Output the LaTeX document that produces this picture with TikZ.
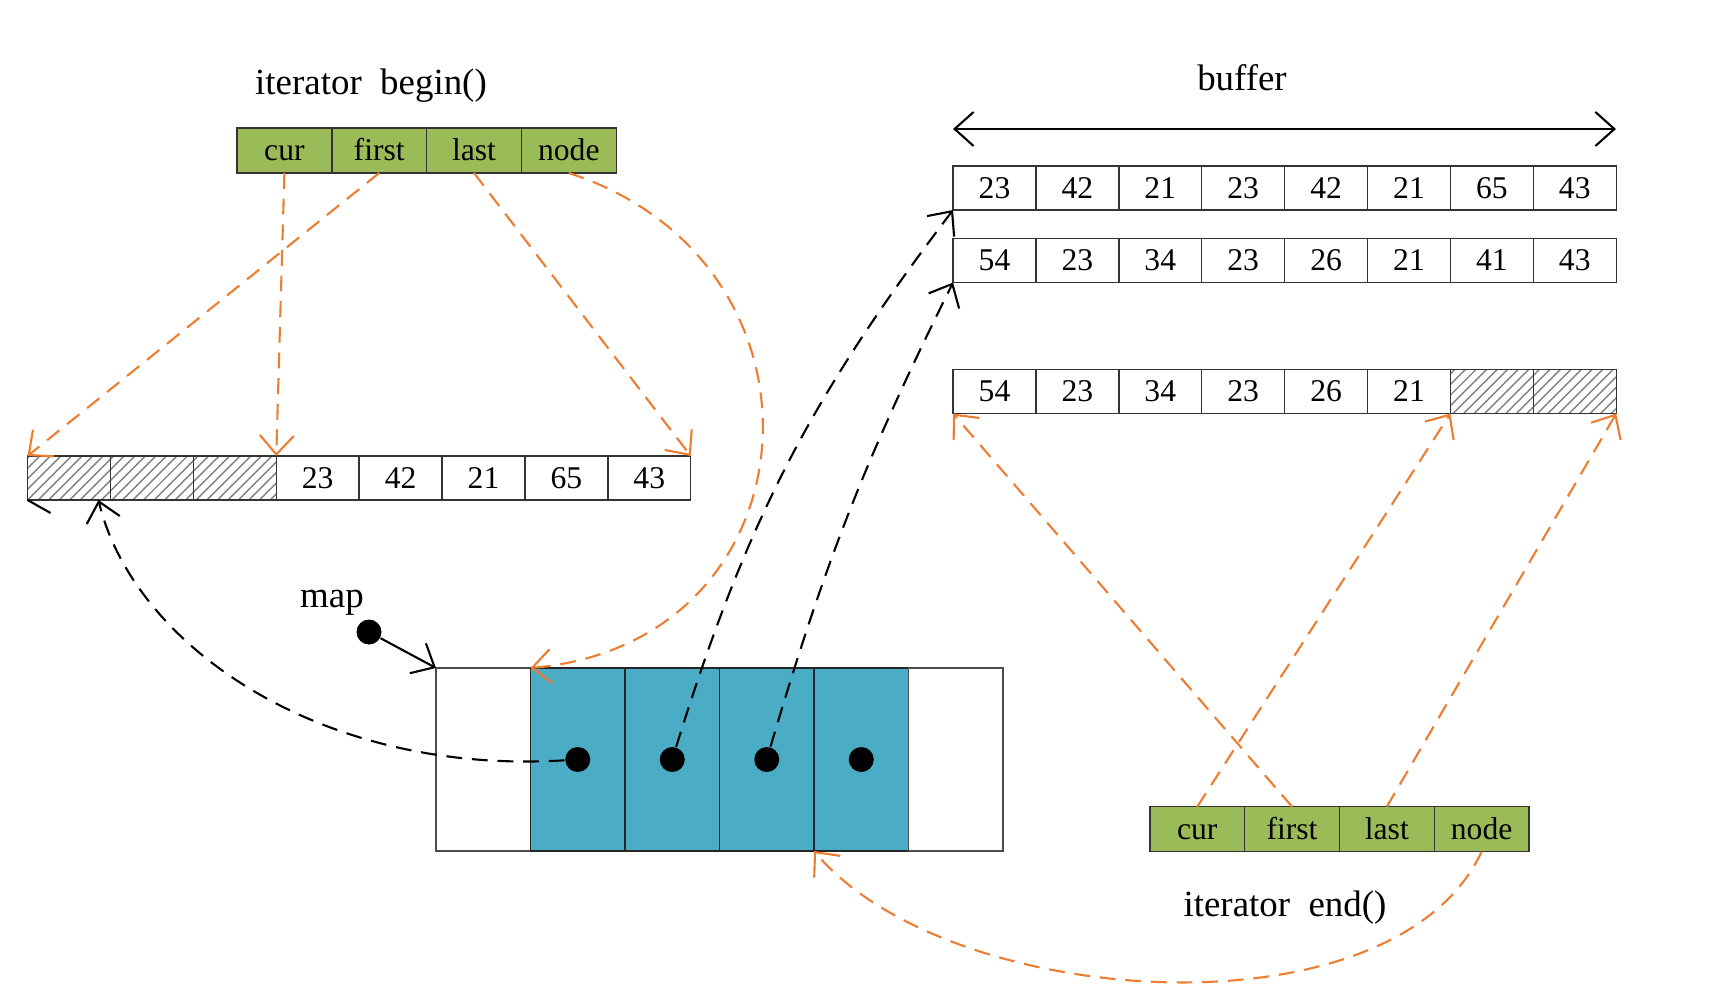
\documentclass[tikz,border=0pt]{standalone}
\usepackage{fontspec}
\setmainfont{Liberation Serif}
\usetikzlibrary{arrows.meta,positioning,patterns,calc}

\definecolor{itgreen}{HTML}{9BBB59}
\definecolor{mapblue}{HTML}{4BACC6}
\definecolor{ptrorange}{HTML}{ED7D31}

\begin{document}
\begin{tikzpicture}[
    >={Straight Barb[length=1.9mm,width=3.4mm]},
    fld/.style={rectangle, draw=black!80, fill=itgreen, minimum width=0.948cm, minimum height=0.45cm,
                inner sep=0pt, outer sep=0pt, text height=1.5ex, text depth=0.25ex,
                font=\fontsize{9}{10}\selectfont},
    cell/.style={rectangle, draw=black!80, fill=white, minimum width=0.829cm, minimum height=0.44cm,
                 inner sep=0pt, outer sep=0pt, font=\fontsize{9}{10}\selectfont},
    hcell/.style={cell, pattern=north east lines, pattern color=gray},
    slot/.style={rectangle, draw=black!70, fill=white, minimum width=0.945cm, minimum height=1.83cm,
                 inner sep=0pt, outer sep=0pt},
    bslot/.style={slot, fill=mapblue, draw=black!85},
    dot/.style={circle, fill=black, minimum size=0.25cm, inner sep=0pt},
    ttl/.style={font=\fontsize{10.5}{12}\selectfont},
    oarr/.style={->, ptrorange, semithick, dash pattern=on 4.5pt off 2.8pt},
    karr/.style={->, black, semithick, dash pattern=on 4.5pt off 2.8pt}
  ]
    \useasboundingbox (0,0) rectangle (17.11,-10.02);

    %--- iterator begin() ---
    \node[ttl] (bttl) at (3.71,-0.86) {iterator~~begin()};
    \node[fld] (bcur) at (2.844,-1.505) {cur};
    \node[fld, right=0pt of bcur] (bfst) {first};
    \node[fld, right=0pt of bfst] (blst) {last};
    \node[fld, right=0pt of blst] (bnod) {node};

    %--- first buffer (left) ---
    \node[hcell] (ar1) at (0.69,-4.78) {};
    \node[hcell, right=0pt of ar1] (ar2) {};
    \node[hcell, right=0pt of ar2] (ar3) {};
    \node[cell, right=0pt of ar3] (ar4) {23};
    \node[cell, right=0pt of ar4] (ar5) {42};
    \node[cell, right=0pt of ar5] (ar6) {21};
    \node[cell, right=0pt of ar6] (ar7) {65};
    \node[cell, right=0pt of ar7] (ar8) {43};

    %--- buffers (right) ---
    \node[ttl] (buf) at (12.42,-0.78) {buffer};
    \coordinate (bufl) at (9.53,-1.29);
    \coordinate (bufr) at (16.16,-1.29);
    \draw[<->, semithick] (bufl) -- (bufr);

    \node[cell] (ra1) at (9.945,-1.88) {23};
    \node[cell, right=0pt of ra1] (ra2) {42};
    \node[cell, right=0pt of ra2] (ra3) {21};
    \node[cell, right=0pt of ra3] (ra4) {23};
    \node[cell, right=0pt of ra4] (ra5) {42};
    \node[cell, right=0pt of ra5] (ra6) {21};
    \node[cell, right=0pt of ra6] (ra7) {65};
    \node[cell, right=0pt of ra7] (ra8) {43};

    \node[cell] (rb1) at (9.945,-2.605) {54};
    \node[cell, right=0pt of rb1] (rb2) {23};
    \node[cell, right=0pt of rb2] (rb3) {34};
    \node[cell, right=0pt of rb3] (rb4) {23};
    \node[cell, right=0pt of rb4] (rb5) {26};
    \node[cell, right=0pt of rb5] (rb6) {21};
    \node[cell, right=0pt of rb6] (rb7) {41};
    \node[cell, right=0pt of rb7] (rb8) {43};

    \node[cell] (rc1) at (9.945,-3.915) {54};
    \node[cell, right=0pt of rc1] (rc2) {23};
    \node[cell, right=0pt of rc2] (rc3) {34};
    \node[cell, right=0pt of rc3] (rc4) {23};
    \node[cell, right=0pt of rc4] (rc5) {26};
    \node[cell, right=0pt of rc5] (rc6) {21};
    \node[hcell, right=0pt of rc6] (rc7) {};
    \node[hcell, right=0pt of rc7] (rc8) {};

    %--- map ---
    \node[ttl] (mlbl) at (3.32,-6.03) {map};
    \node[dot] (mdot) at (3.69,-6.32) {};
    \node[slot] (mp1) at (4.8325,-7.595) {};
    \node[bslot, right=0pt of mp1] (mp2) {};
    \node[bslot, right=0pt of mp2] (mp3) {};
    \node[bslot, right=0pt of mp3] (mp4) {};
    \node[bslot, right=0pt of mp4] (mp5) {};
    \node[slot, right=0pt of mp5] (mp6) {};
    \node[dot] (d1) at (mp2) {};
    \node[dot] (d2) at (mp3) {};
    \node[dot] (d3) at (mp4) {};
    \node[dot] (d4) at (mp5) {};

    %--- iterator end() ---
    \node[fld] (ecur) at (11.9725,-8.292) {cur};
    \node[fld, right=0pt of ecur] (efst) {first};
    \node[fld, right=0pt of efst] (elst) {last};
    \node[fld, right=0pt of elst] (enod) {node};
    \node[ttl] (ettl) at (12.85,-9.08) {iterator~~end()};

    %--- begin() pointers ---
    \draw[oarr] (bcur.south) -- (ar4.north west);
    \draw[oarr] (bfst.south) -- (ar1.north west);
    \draw[oarr] (blst.south) -- (ar8.north east);
    \draw[oarr] (bnod.south) to[out=-18, in=5, looseness=1.5] (mp2.north west);

    %--- end() pointers ---
    \draw[oarr] (ecur.north) -- (rc7.south west);
    \draw[oarr] (efst.north) -- (rc1.south west);
    \draw[oarr] (elst.north) -- (rc8.south east);
    \draw[oarr] (enod.south) to[out=-115, in=-50, looseness=0.8] (mp4.south east);

    %--- map entries ---
    \draw[->, semithick] (mdot) -- (mp1.north west);
    \draw[karr] (d1) .. controls +(-2.58,-0.16) and +(0.35,-1.45) .. ([xshift=-0.12cm]ar1.south east);
    \draw[karr] (d2) to[bend left=10] (ra1.south west);
    \draw[karr] (d3) to[bend left=5] (rb1.south west);
    \draw[semithick] (ar1.south west) -- ++(0.23,-0.13);
\end{tikzpicture}
\end{document}
